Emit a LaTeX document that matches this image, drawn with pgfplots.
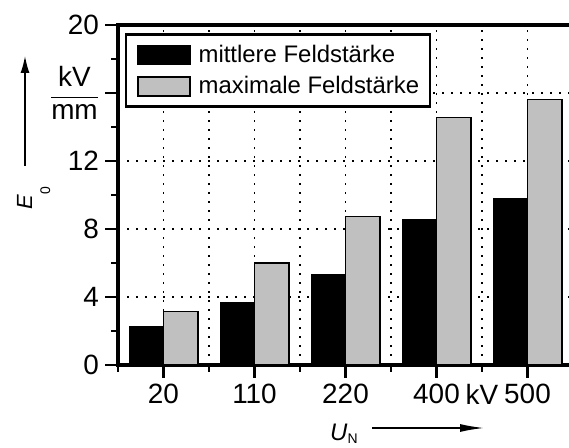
\documentclass[border=0pt]{standalone}
\usepackage{pgfplots}
\pgfplotsset{compat=1.18}
\usetikzlibrary{arrows.meta}
\usepackage{fontspec}
\setmainfont{Liberation Sans}
\definecolor{bargrey}{RGB}{192,192,192}
\begin{document}
\begin{tikzpicture}[x=1bp,y=1bp]
\useasboundingbox (0,0) rectangle (569,448);
\begin{axis}[
  at={(118bp,83bp)}, anchor=south west,
  scale only axis, width=455bp, height=340bp,
  line width=3.5bp,
  axis line style={line width=3.5bp},
  every outer x axis line/.append style={line width=3.5bp},
  every outer y axis line/.append style={line width=3.5bp},
  xmin=-0.5, xmax=4.5, ymin=0, ymax=20,
  ybar=0pt, bar width=34.5bp,
  xtick={0,1,2,3,4}, xticklabels={20,110,220,400,500},
  minor xtick={-0.5,0.5,1.5,2.5,3.5,4.5},
  extra x ticks={3.5}, extra x tick labels={kV},
  extra x tick style={xmajorgrids=false, major tick length=7bp, xticklabel style={yshift=-6bp}},
  ytick={0,4,8,12,16,20},
  yticklabels={0,4,8,12,{$\displaystyle\frac{\mbox{kV}}{\mbox{mm}}$},20},
  minor ytick={2,6,10,14,18},
  xtick pos=lower, ytick pos=left,
  tick align=outside,
  major tick length=13bp, minor tick length=7bp,
  tick style={black, line width=2.2bp},
  major tick style={black, line width=2.2bp},
  minor tick style={black, line width=2.2bp},
  tick label style={font=\fontsize{28}{30}\selectfont},
  xticklabel style={yshift=-1bp},
  yticklabel style={xshift=-1bp},
  xmajorgrids, xminorgrids, ymajorgrids,
  major grid style={black, line width=1.6bp, dash pattern=on 2bp off 7bp},
  minor grid style={black, line width=1.6bp, dash pattern=on 2bp off 7bp},
  legend image code/.code={\draw[#1, line width=1.5bp] (0bp,-9.5bp) rectangle (52bp,9.5bp);},
  legend cell align=left,
  legend style={at={(0.0154,0.975)}, anchor=north west, draw=black, line width=2.2bp,
    font=\fontsize{24}{26}\selectfont, inner xsep=11bp, inner ysep=10bp,
    column sep=8bp, row sep=11bp,
    nodes={inner sep=0pt, text height=17bp, text depth=2bp}},
]
\addplot[fill=black, draw=black, line width=1bp] coordinates {(0,2.25) (1,3.67) (2,5.35) (3,8.55) (4,9.82)};
\addplot[fill=bargrey, draw=black, line width=1.5bp] coordinates {(0,3.14) (1,6.0) (2,8.73) (3,14.57) (4,15.63)};
\legend{mittlere Feldstärke, maximale Feldstärke}
\end{axis}
\draw[line width=1.5bp, -{Latex[length=17bp,width=9bp]}] (25,282) -- (25,392);
\node[rotate=90, anchor=base west, inner sep=0pt] at (32,238) {\fontsize{22}{24}\selectfont\textit{E}\raisebox{-18bp}{\fontsize{14}{14}\selectfont 0}};
\node[anchor=base west, inner sep=0pt] at (330,7) {\fontsize{24}{26}\selectfont\textit{U}\raisebox{-3bp}{\fontsize{14}{14}\selectfont N}};
\draw[line width=1.5bp, -{Latex[length=24bp,width=8bp]}] (372,20) -- (484,20);
\end{tikzpicture}
\end{document}
